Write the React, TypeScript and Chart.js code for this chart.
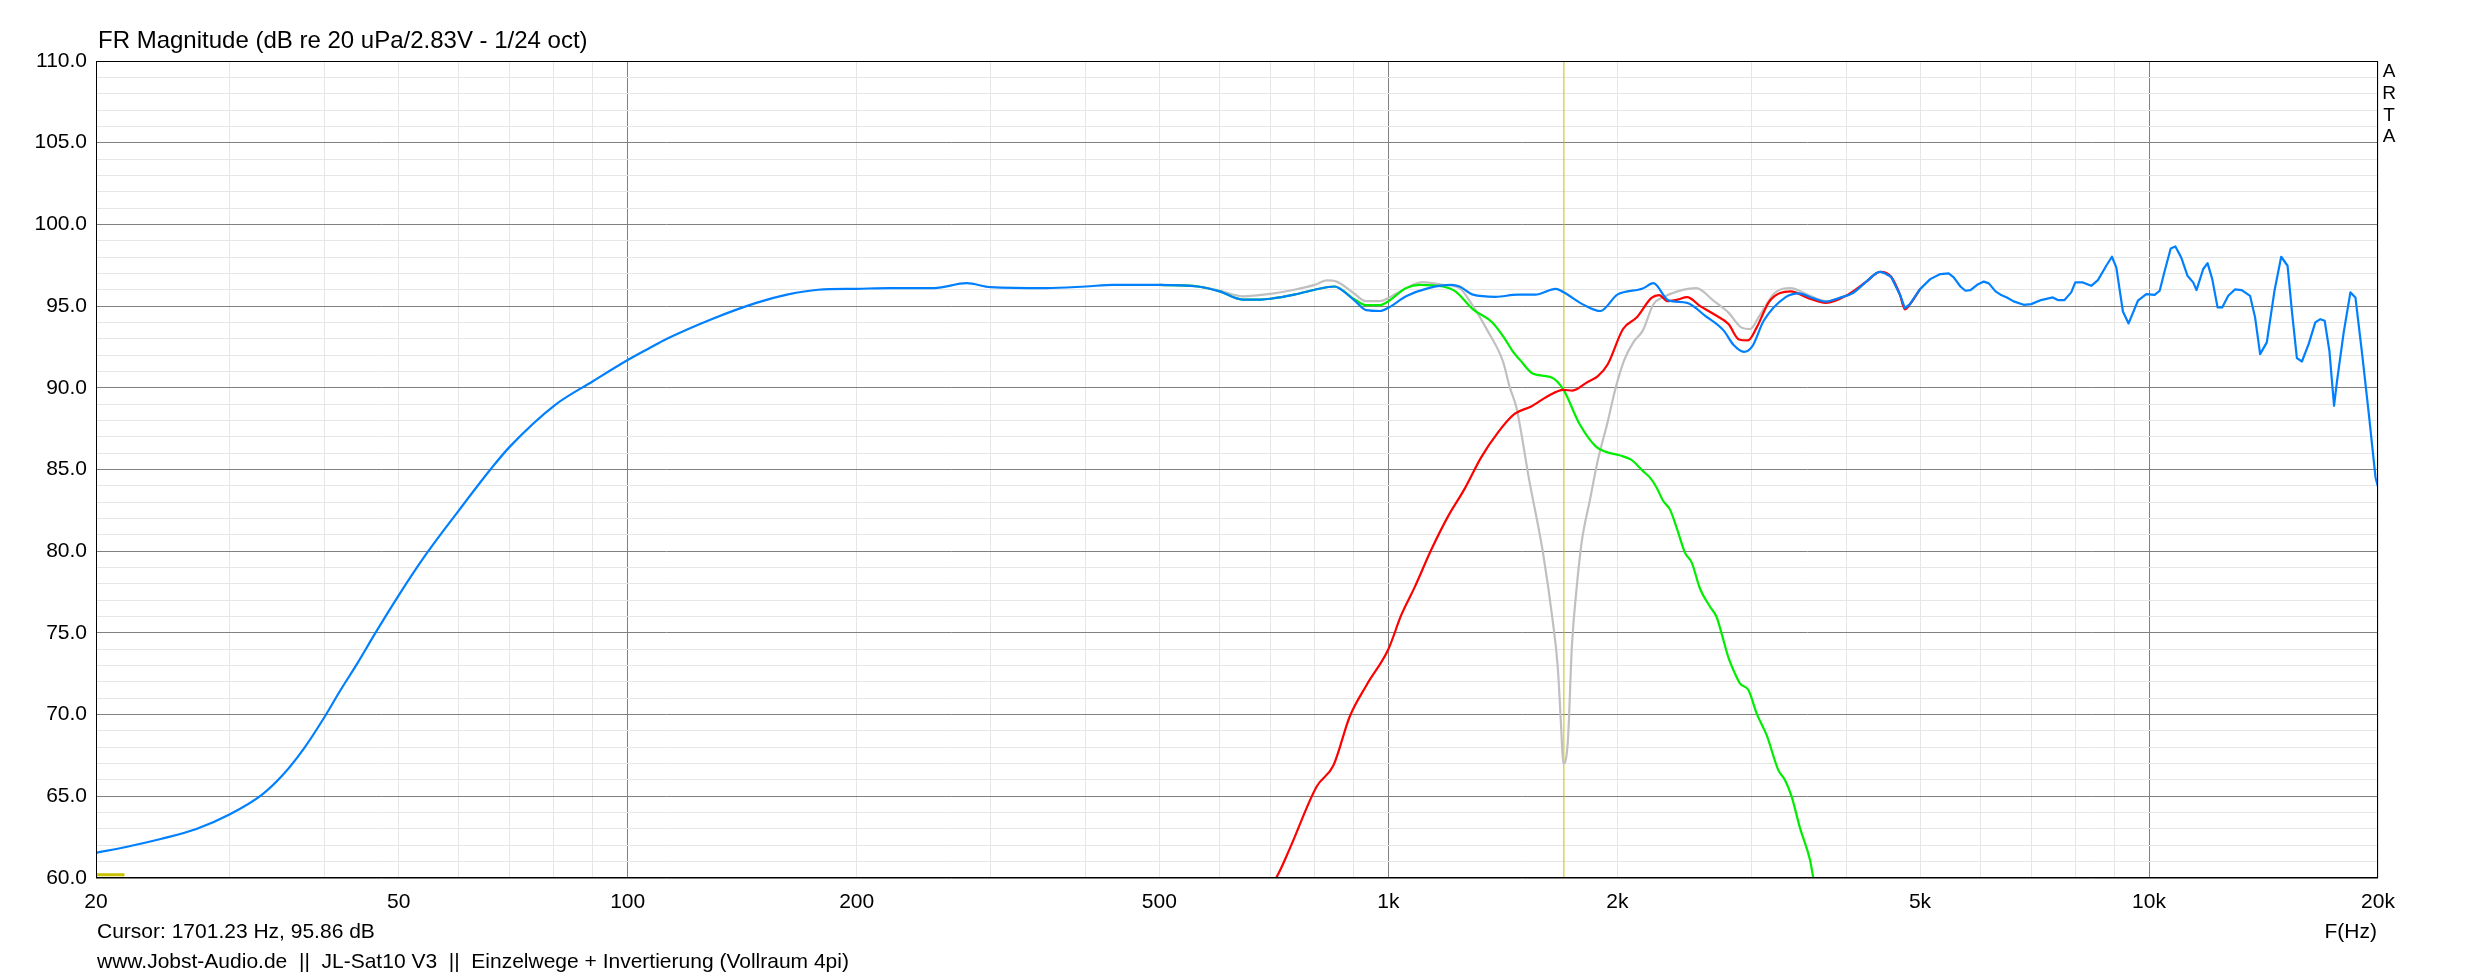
import React, { useEffect, useRef } from 'react';
import { Chart, registerables } from 'chart.js';

Chart.register(...registerables);

const FONT = '"Liberation Sans", Arial, Helvetica, sans-serif';

// ---- data (frequency in Hz, level in dB) ----
const SUM_HZ = [
  20, 21.9, 24.4, 27.1, 30, 33, 35.2, 37.5, 40, 41.8, 44.2, 46.6, 50, 54.3, 60, 66, 70, 80, 90, 100, 107,
  112.6, 128.9, 147.6, 162, 178, 200, 221, 253, 279, 300, 355, 400, 435, 465, 500, 562, 600, 643, 680, 700,
  752, 800, 850, 861, 900, 935, 975, 1000, 1055, 1129, 1210, 1240, 1292, 1383, 1479, 1560, 1660, 1698, 1810,
  1900, 2000, 2160, 2230, 2335, 2470, 2610, 2760, 2840, 2935, 3010, 3115, 3329, 3467, 3610, 3760, 3915, 4080,
  4250, 4430, 4580, 4705, 4776, 4850, 5000, 5157, 5316, 5453, 5537, 5650, 5737, 5825, 5944, 6065, 6158, 6284,
  6380, 6504, 6638, 6843, 7000, 7212, 7473, 7587, 7743, 7902, 8000, 8186, 8395, 8567, 8786, 8938, 9057, 9240,
  9400, 9670, 9918, 10172, 10328, 10487, 10679, 10832, 11032, 11234, 11430, 11546, 11783, 11939, 12110, 12306,
  12480, 12710, 12970, 13240, 13578, 13786, 13998, 14284, 14620, 14920, 15210, 15410, 15646, 15886, 16212,
  16543, 16797, 17020, 17263, 17508, 17668, 18028, 18397, 18679, 19063, 19453, 19852, 20000,
];
const SUM_DB = [
  61.54, 61.9, 62.4, 63.0, 63.9, 65.07, 66.3, 67.9, 69.9, 71.4, 73.2, 75.0, 77.3, 79.8, 82.5, 85.0, 86.4, 88.9, 90.4, 91.7, 92.45,
  93.0, 94.2, 95.2, 95.7, 96.0, 96.06, 96.1, 96.1, 96.4, 96.16, 96.1, 96.2, 96.3, 96.3, 96.3, 96.2, 95.9, 95.4, 95.4, 95.45,
  95.7, 96.0, 96.2, 96.1, 95.4, 94.75, 94.7, 94.9, 95.6, 96.1, 96.3, 96.2, 95.7, 95.57, 95.7, 95.7, 96.06, 95.86, 95.06,
  94.7, 95.7, 96.08, 96.4, 95.35, 95.2, 94.4, 93.5, 92.65, 92.2, 92.55, 94.1, 95.55, 95.78, 95.5, 95.27, 95.5, 95.8,
  96.5, 97.1, 96.8, 95.7, 94.88, 95.12, 96.04, 96.65, 96.96, 97.0, 96.76, 96.2, 95.94, 95.98, 96.3, 96.5, 96.39, 95.9,
  95.7, 95.53, 95.29, 95.08, 95.12, 95.37, 95.53, 95.37, 95.37, 95.84, 96.45, 96.45, 96.24, 96.59, 97.47, 98.02, 97.37, 94.67,
  93.94, 95.33, 95.73, 95.69, 95.94, 97.16, 98.53, 98.65, 97.94, 96.86, 96.45, 95.98, 97.27, 97.63, 96.65, 94.92,
  94.92, 95.63, 96.02, 95.98, 95.63, 94.31, 92.06, 92.78, 95.94, 98.02, 97.47, 94.71, 91.82, 91.61, 92.67,
  94.0, 94.2, 94.1, 92.27, 88.9, 90.43, 93.39, 95.84, 95.53, 92.06, 88.39, 84.5, 83.94,
];
// above this frequency the sum is drawn with straight segments (sparse 1/24 oct points)
const SUM_SPLIT_HZ = 4580;

const INV_HZ = [
  500, 562, 600, 643, 700, 752, 800, 830, 855, 900, 935, 975, 1000, 1055, 1110, 1180, 1240, 1292, 1350, 1415,
  1444, 1474, 1533, 1596, 1645, 1670, 1688, 1698, 1722, 1743, 1769, 1796, 1842, 1884, 1942, 1991, 2042, 2100,
  2160, 2230, 2300, 2400, 2540, 2680, 2800, 2910, 2990, 3075, 3220, 3380, 3560, 3760, 3915, 4080, 4250, 4430,
  4580, 4705, 4776, 4850, 5000,
];
const INV_DB = [
  96.3, 96.2, 95.95, 95.6, 95.75, 96.0, 96.3, 96.57, 96.5, 95.8, 95.3, 95.3, 95.5, 96.1, 96.47, 96.3, 96.1, 95.0, 93.5, 91.6,
  90.04, 88.76, 84.26, 79.98, 75.7, 72.9, 69.06, 67.0, 68.4, 74.2, 77.84, 80.6, 83.2, 85.5, 87.9, 90.04, 91.7, 92.8,
  93.5, 95.1, 95.55, 95.9, 96.1, 95.3, 94.6, 93.7, 93.6, 94.4, 95.8, 96.1, 95.7, 95.3, 95.5, 95.8, 96.5, 97.1,
  96.8, 95.7, 94.88, 95.12, 96.04,
];

const WOOFER_HZ = [
  500, 562, 600, 643, 680, 700, 752, 800, 850, 900, 935, 975, 1000, 1055, 1100, 1180, 1225, 1292, 1370, 1420,
  1459, 1490, 1550, 1637, 1698, 1783, 1875, 1932, 2013, 2085, 2162, 2208, 2252, 2298, 2345, 2393, 2455, 2505,
  2569, 2648, 2702, 2743, 2799, 2856, 2900, 2974, 3050, 3143, 3256, 3322, 3390, 3477, 3584, 3620, 3660,
];
const WOOFER_DB = [
  96.3, 96.2, 95.9, 95.4, 95.4, 95.45, 95.7, 96.0, 96.2, 95.45, 95.06, 95.06, 95.3, 96.1, 96.3, 96.2, 95.9, 94.8, 94.0, 93.06,
  92.2, 91.7, 90.86, 90.64, 89.9, 87.8, 86.4, 86.08, 85.87, 85.6, 84.9, 84.5, 83.9, 83.07, 82.56, 81.44, 79.9, 79.3,
  77.7, 76.6, 75.96, 74.94, 73.5, 72.5, 71.9, 71.5, 70.06, 68.74, 66.6, 66.0, 64.98, 63.05, 61.1, 60.0, 59.2,
];

const TWEETER_HZ = [
  700, 713, 742, 805, 847, 890, 936, 1000, 1040, 1083, 1139, 1197, 1259, 1325, 1393, 1465, 1541, 1622, 1698,
  1746, 1828, 1884, 1942, 2035, 2120, 2218, 2270, 2330, 2400, 2470, 2570, 2680, 2800, 2890, 2970, 3050, 3170,
  3380, 3560, 3760, 4020, 4250, 4430, 4580, 4705, 4776, 4850, 5000,
];
const TWEETER_DB = [
  59.6, 60.06, 61.8, 65.6, 66.9, 69.9, 71.8, 74.0, 76.1, 77.8, 80.1, 82.1, 83.8, 85.76, 87.26, 88.4, 88.86, 89.5, 89.87,
  89.83, 90.36, 90.7, 91.43, 93.6, 94.3, 95.5, 95.67, 95.3, 95.4, 95.55, 95.0, 94.5, 93.9, 92.96, 92.9, 93.7, 95.3,
  95.9, 95.5, 95.2, 95.7, 96.5, 97.1, 96.8, 95.7, 94.8, 95.12, 96.04,
];

const CURSOR_HZ = [1701.23, 1701.23];
const CURSOR_DB = [60, 110];
const MARKER_HZ = [20, 21.8];
const MARKER_DB = [60.2, 60.2];

// ---- axes ----
const X_GRID = [
  20, 30, 40, 50, 60, 70, 80, 90, 100, 200, 300, 400, 500, 600, 700, 800, 900,
  1000, 2000, 3000, 4000, 5000, 6000, 7000, 8000, 9000, 10000, 20000,
];
const X_MAJOR = [100, 1000, 10000];
const X_LABEL_HZ = [20, 50, 100, 200, 500, 1000, 2000, 5000, 10000, 20000];
const X_LABELS = ['20', '50', '100', '200', '500', '1k', '2k', '5k', '10k', '20k'];
const Y_MAJOR = [60, 65, 70, 75, 80, 85, 90, 95, 100, 105, 110];
const Y_LABELS = ['60.0', '65.0', '70.0', '75.0', '80.0', '85.0', '90.0', '95.0', '100.0', '105.0', '110.0'];
const Y_MIN = 60;
const Y_MAX = 110;

const TITLE = 'FR Magnitude (dB re 20 uPa/2.83V - 1/24 oct)';
const CURSOR_TEXT = 'Cursor: 1701.23 Hz, 95.86 dB';
const FOOTER_TEXT = 'www.Jobst-Audio.de  ||  JL-Sat10 V3  ||  Einzelwege + Invertierung (Vollraum 4pi)';
const X_UNIT = 'F(Hz)';
const BRAND = ['A', 'R', 'T', 'A'];

const pts = (hz: number[], db: number[]) => hz.map((x, i) => ({ x, y: db[i] }));

const yGrid: number[] = [];
for (let v = Y_MIN; v <= Y_MAX; v++) yGrid.push(v);

const textPlugin = {
  id: 'artaTexts',
  afterDraw(chart: any) {
    const { ctx, chartArea: a } = chart;
    ctx.save();
    ctx.strokeStyle = '#000';
    ctx.lineWidth = 1;
    ctx.strokeRect(a.left + 0.5, a.top + 0.5, a.right - a.left - 1, a.bottom - a.top - 1);
    ctx.fillStyle = '#000';
    ctx.textAlign = 'left';
    ctx.textBaseline = 'alphabetic';
    ctx.font = `24px ${FONT}`;
    ctx.fillText(TITLE, 98, 48);
    ctx.textBaseline = 'middle';
    ctx.font = `21px ${FONT}`;
    ctx.fillText(CURSOR_TEXT, 97, 932);
    ctx.fillText(FOOTER_TEXT, 97, 962);
    ctx.textAlign = 'right';
    ctx.fillText(X_UNIT, a.right - 1, 932);
    ctx.textAlign = 'center';
    ctx.font = `19px ${FONT}`;
    BRAND.forEach((ch, i) => ctx.fillText(ch, a.right + 11, 72 + i * 21.7));
    ctx.restore();
  },
};

export default function App() {
  const ref = useRef<HTMLCanvasElement | null>(null);

  useEffect(() => {
    if (!ref.current) return;
    const line = (data: any[], color: string, width = 2.2, smooth = true) => ({
      data,
      borderColor: color,
      backgroundColor: color,
      borderWidth: width,
      pointRadius: 0,
      fill: false,
      tension: 0,
      cubicInterpolationMode: smooth ? ('monotone' as const) : ('default' as const),
      borderJoinStyle: 'round' as const,
    });
    const sumAll = pts(SUM_HZ, SUM_DB);
    const sumLow = sumAll.filter((p) => p.x <= SUM_SPLIT_HZ);
    const sumHigh = sumAll.filter((p) => p.x >= SUM_SPLIT_HZ);
    const chart = new Chart(ref.current, {
      type: 'line',
      data: {
        datasets: [
          line(sumLow, '#0080ff'),
          line(sumHigh, '#0080ff', 2.2, false),
          line(pts(TWEETER_HZ, TWEETER_DB), '#ff0000'),
          line(pts(WOOFER_HZ, WOOFER_DB), '#00ee00'),
          line(pts(INV_HZ, INV_DB), '#c0c0c0'),
          line(pts(MARKER_HZ, MARKER_DB), '#c8c000', 3, false),
          line(pts(CURSOR_HZ, CURSOR_DB), '#c8c000', 1, false),
        ],
      },
      options: {
        animation: false,
        responsive: false,
        maintainAspectRatio: false,
        devicePixelRatio: 1,
        events: [],
        layout: { padding: { left: 0, right: 95, top: 61, bottom: 0 } },
        plugins: { legend: { display: false }, tooltip: { enabled: false }, title: { display: false } },
        scales: {
          x: {
            type: 'logarithmic',
            min: 20,
            max: 20000,
            afterBuildTicks: (s: any) => {
              s.ticks = X_GRID.map((v) => ({ value: v }));
            },
            afterFit: (s: any) => {
              s.height = 100;
            },
            ticks: {
              autoSkip: false,
              maxRotation: 0,
              minRotation: 0,
              padding: 12,
              color: '#000',
              font: { family: FONT, size: 21 },
              callback: (v: any) => {
                const i = X_LABEL_HZ.indexOf(Number(v));
                return i >= 0 ? X_LABELS[i] : '';
              },
            },
            grid: {
              drawTicks: false,
              lineWidth: 1,
              color: (c: any) => (c.tick && X_MAJOR.includes(c.tick.value) ? '#808080' : '#e6e6e6'),
            },
            border: { display: false },
          },
          y: {
            type: 'linear',
            min: Y_MIN,
            max: Y_MAX,
            afterBuildTicks: (s: any) => {
              s.ticks = yGrid.map((v) => ({ value: v }));
            },
            afterFit: (s: any) => {
              s.width = 96;
            },
            ticks: {
              autoSkip: false,
              padding: 9,
              color: '#000',
              font: { family: FONT, size: 21 },
              callback: (v: any) => {
                const i = Y_MAJOR.indexOf(Number(v));
                return i >= 0 ? Y_LABELS[i] : '';
              },
            },
            grid: {
              drawTicks: false,
              lineWidth: 1,
              color: (c: any) => (c.tick && Y_MAJOR.includes(c.tick.value) ? '#808080' : '#e6e6e6'),
            },
            border: { display: false },
          },
        },
      } as any,
      plugins: [textPlugin],
    });
    return () => chart.destroy();
  }, []);

  return (
    <div style={{ position: 'fixed', left: 0, top: 0, width: 2473, height: 978, background: '#fff' }}>
      <canvas ref={ref} width={2473} height={978} style={{ display: 'block', width: 2473, height: 978 }} />
    </div>
  );
}
